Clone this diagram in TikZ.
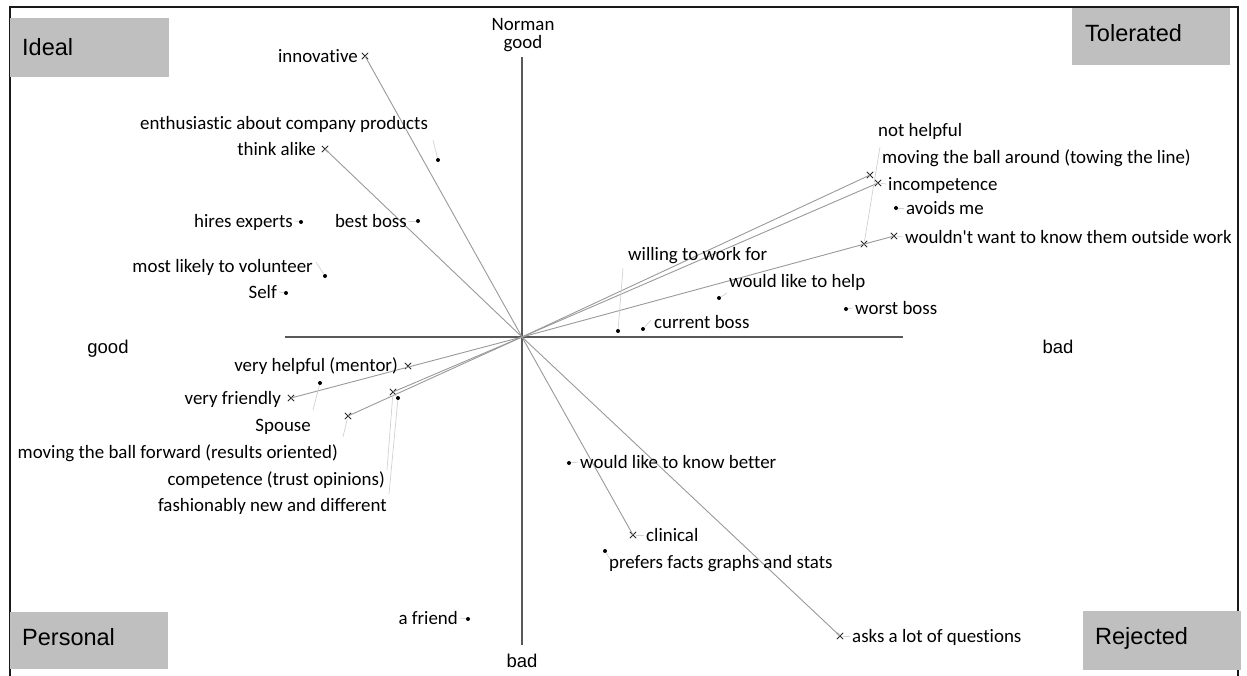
\documentclass[tikz,border=0pt]{standalone}
\usepackage{fontspec}
\setmainfont{Carlito}[Ligatures={NoCommon}]
\newfontfamily\arialf{Liberation Sans}
\usetikzlibrary{shapes.misc}

\newcommand{\lblsize}{\fontsize{18.9}{20}\selectfont}
\newcommand{\axsize}{\arialf\fontsize{18.5}{20}\selectfont}
\newcommand{\qsize}{\arialf\fontsize{23.5}{26}\selectfont}

\tikzset{
  lab/.style={font=\lblsize, inner sep=0pt, text height=14pt, text depth=0.8pt},
  axlab/.style={font=\axsize, inner sep=0pt, text height=14pt, text depth=0.6pt},
  qlab/.style={font=\qsize, inner sep=0pt, text height=16pt, text depth=0pt, anchor=west},
  qbox/.style={fill=black!25, draw=none, inner sep=0pt, anchor=north west},
  frame/.style={line width=1.8pt, black!90},
  axis/.style={line width=1.3pt, black!65},
  construct/.style={line width=0.9pt, black!40},
  leader/.style={line width=0.7pt, black!18},
  xmark/.style={cross out, draw=black!85, line width=0.8pt, minimum size=5.5pt, inner sep=0pt},
  dotmark/.style={circle, fill=black, inner sep=0pt, minimum size=4pt},
}

\begin{document}
\begin{tikzpicture}[x=1pt,y=-1pt]
\useasboundingbox (0,0) rectangle (1247,675);

% outer frame (open at the bottom)
\coordinate (fBL) at (10,680);
\coordinate (fTL) at (10,7);
\coordinate (fTR) at (1238,7);
\coordinate (fBR) at (1238,680);
\draw[frame] (fBL) -- (fTL) -- (fTR) -- (fBR);

% quadrant boxes
\node[qbox, minimum width=159pt, minimum height=59pt] (bIdeal) at (10,18) {};
\node[qbox, minimum width=158pt, minimum height=57pt] (bTol) at (1072,8) {};
\node[qbox, minimum width=158pt, minimum height=57pt] (bPers) at (10,612) {};
\node[qbox, minimum width=158pt, minimum height=59pt] (bRej) at (1083,611) {};
\node[qlab] (tIdeal) at (22,47) {Ideal};
\node[qlab] (tTol) at (1085,33) {Tolerated};
\node[qlab] (tPers) at (22,637) {Personal};
\node[qlab] (tRej) at (1095,636) {Rejected};

% axes
\coordinate (O) at (522,337);
\coordinate (axT) at (522,57);
\coordinate (axB) at (522,645);
\coordinate (axL) at (285,337);
\coordinate (axR) at (903,337);
\draw[axis] (axT) -- (axB);
\draw[axis] (axL) -- (axR);

% axis labels
\node[lab] (norm) at (523,24) {Norman};
\node[lab] (goodT) at (523,42) {good};
\node[axlab] (badB) at (522,661) {bad};
\node[axlab] (goodL) at (108,347) {good};
\node[axlab] (badR) at (1058,347) {bad};

% construct poles
\node[xmark] (mInnov) at (365,56) {};
\node[xmark] (mThink) at (325,149) {};
\node[xmark] (mAround) at (870,175) {};
\node[xmark] (mIncomp) at (878,183) {};
\node[xmark] (mNotHelp) at (864,244) {};
\node[xmark] (mWould) at (894,236) {};
\node[xmark] (mHelpful) at (408,366) {};
\node[xmark] (mFriendly) at (291,398) {};
\node[xmark] (mComp) at (393,392) {};
\node[xmark] (mForward) at (348,416) {};
\node[xmark] (mClin) at (633,535) {};
\node[xmark] (mAsks) at (840,636) {};

% construct lines through the origin
\foreach \m in {mInnov,mThink,mAround,mIncomp,mWould,mFriendly,mComp,mForward,mClin,mAsks}
  \draw[construct] (O) -- (\m.center);

% elements
\node[dotmark] (dEnth) at (438,160) {};
\node[dotmark] (dHires) at (301,222) {};
\node[dotmark] (dBest) at (418,221) {};
\node[dotmark] (dVol) at (325,276) {};
\node[dotmark] (dSelf) at (286,293) {};
\node[dotmark] (dWilling) at (618,331) {};
\node[dotmark] (dCurrent) at (643,329) {};
\node[dotmark] (dHelp) at (719,298) {};
\node[dotmark] (dWorst) at (846,309) {};
\node[dotmark] (dAvoids) at (896,208) {};
\node[dotmark] (dSpouse) at (320,383) {};
\node[dotmark] (dFash) at (398,398) {};
\node[dotmark] (dKnow) at (569,463) {};
\node[dotmark] (dFacts) at (605,551) {};
\node[dotmark] (dFriend) at (468,619) {};

% labels, left side
\node[lab, anchor=east] (lInnov) at (358,56) {innovative};
\node[lab, anchor=west] (lEnth) at (140,123) {enthusiastic about company products};
\node[lab, anchor=east] (lThink) at (316,149) {think alike};
\node[lab, anchor=east] (lHires) at (293,221) {hires experts};
\node[lab, anchor=east] (lBest) at (407,221) {best boss};
\node[lab, anchor=east] (lVol) at (313,266) {most likely to volunteer};
\node[lab, anchor=east] (lSelf) at (277,292) {Self};
\node[lab, anchor=east] (lHelpful) at (398,365) {very helpful (mentor)};
\node[lab, anchor=east] (lFriendly) at (281,398) {very friendly};
\node[lab, anchor=east] (lSpouse) at (311,425) {Spouse};
\node[lab, anchor=east] (lForward) at (338,452) {moving the ball forward (results oriented)};
\node[lab, anchor=east] (lComp) at (385,479) {competence (trust opinions)};
\node[lab, anchor=east] (lFash) at (387,505) {fashionably new and different};
\node[lab, anchor=east] (lFriend) at (458,618) {a friend};

% labels, right side
\node[lab, anchor=west] (lNotHelp) at (878,130) {not helpful};
\node[lab, anchor=west] (lAround) at (882,157) {moving the ball around (towing the line)};
\node[lab, anchor=west] (lIncomp) at (888,184) {incompetence};
\node[lab, anchor=west] (lAvoids) at (906,208) {avoids me};
\node[lab, anchor=west] (lWould) at (905,237) {wouldn\textquotesingle t want to know them outside work};
\node[lab, anchor=west] (lWilling) at (628,254) {willing to work for};
\node[lab, anchor=west] (lHelp) at (729,281) {would like to help};
\node[lab, anchor=west] (lWorst) at (855,308) {worst boss};
\node[lab, anchor=west] (lCurrent) at (654,322) {current boss};
\node[lab, anchor=west] (lKnow) at (580,462) {would like to know better};
\node[lab, anchor=west] (lClin) at (646,535) {clinical};
\node[lab, anchor=west] (lFacts) at (609,562) {prefers facts graphs and stats};
\node[lab, anchor=west] (lAsks) at (852,636) {asks a lot of questions};

% leader lines from labels to their markers
\coordinate (cEnth) at (433,140);
\coordinate (cVol) at (316,262);
\coordinate (cNotHelp) at (880,147);
\coordinate (cWilling) at (623,268);
\coordinate (cHelp) at (727,293);
\coordinate (cCurrent) at (651,320);
\coordinate (cSpouse) at (313,410);
\coordinate (cForward) at (343,437);
\coordinate (cComp) at (387,470);
\coordinate (cFash) at (389,494);
\coordinate (cFacts) at (610,559);
\draw[leader] (cEnth) -- (dEnth);
\draw[leader] (cVol) -- (dVol);
\draw[leader] (cNotHelp) -- (mNotHelp);
\draw[leader] (cWilling) -- (dWilling);
\draw[leader] (cHelp) -- (dHelp);
\draw[leader] (cCurrent) -- (dCurrent);
\draw[leader] (cSpouse) -- (dSpouse);
\draw[leader] (cForward) -- (mForward);
\draw[leader] (cComp) -- (mComp);
\draw[leader] (cFash) -- (dFash);
\draw[leader] (cFacts) -- (dFacts);
\draw[leader] ([xshift=2pt]lHires.east) -- (dHires);
\draw[leader] ([xshift=2pt]lBest.east) -- (dBest);
\draw[leader] ([xshift=2pt]lSelf.east) -- (dSelf);
\draw[leader] ([xshift=2pt]lFriend.east) -- (dFriend);
\draw[leader] ([xshift=-2pt]lIncomp.west) -- (mIncomp);
\draw[leader] ([xshift=-2pt]lWould.west) -- (mWould);
\draw[leader] ([xshift=-2pt]lAsks.west) -- (mAsks);
\draw[leader] ([xshift=-2pt]lClin.west) -- (mClin);
\draw[leader] ([xshift=-2pt]lWorst.west) -- (dWorst);
\draw[leader] ([xshift=-2pt]lAvoids.west) -- (dAvoids);
\draw[leader] ([xshift=-2pt]lKnow.west) -- (dKnow);
\end{tikzpicture}
\end{document}
